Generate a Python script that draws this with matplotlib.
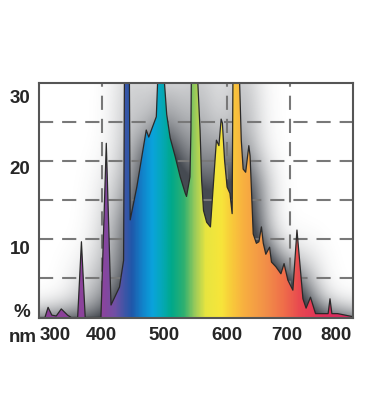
import matplotlib
matplotlib.use("Agg")
import matplotlib.pyplot as plt
import numpy as np
from matplotlib.colors import LinearSegmentedColormap
from matplotlib.patches import Polygon

# spectrum (nm, relative intensity %)
wavelength = [300, 310, 315, 321, 328, 336, 346, 352, 362, 368, 374, 399,
              407.5, 415, 428.5, 435, 436.5, 444, 445.5, 456, 471, 475, 487,
              489, 494, 500, 503.5, 509, 517, 525, 533, 535, 540.5, 542,
              543, 551, 553, 556.5, 559, 562, 567, 573, 582.5, 586.5, 590,
              592, 595.5, 599.5, 604, 607.5, 609, 618, 622, 625, 629, 634,
              636, 641, 646, 650, 654, 657, 661, 667, 670, 677, 685, 690,
              696, 704, 710.5, 720, 725, 732, 740, 760, 763, 766, 775, 800]
intensity = [0, 0, 1.3, 0.3, 0.2, 1.1, 0.3, 0, 0, 9.7, 0, 0,
             22.3, 1.6, 3.9, 7.3, 34, 34, 12.5, 16.7, 24, 23.1, 25.7,
             30, 33, 30, 26, 23, 20.6, 18, 15.9, 15.5, 18, 24,
             34, 34, 30, 24, 17.6, 13.7, 12.2, 11.6, 22.7, 22.0, 25.4,
             24.9, 20.1, 16.7, 15.9, 13.3, 34, 34, 22.7, 19, 18.6, 22.0,
             20.7, 10.7, 9.5, 9.7, 11.6, 9.5, 8.1, 9.0, 7.1, 6.5, 5.6, 6.9,
             4.8, 3.5, 11.2, 2.4, 1.2, 2.6, 0.5, 0.5, 2.4, 0.5, 0.5, 0.1]

# colour of the fill along the wavelength axis
color_nm = [300, 400, 420, 435, 447, 465, 480, 495, 510, 530, 548, 565,
            590, 605, 625, 660, 690, 715, 750, 800]
color_hex = ["#8b3f98", "#8c449d", "#7050a5", "#3f55a6", "#1f58aa", "#1185cc",
             "#0aa3dc", "#05a8b8", "#00a88a", "#2fb070", "#9ccb5a", "#e8e540",
             "#f7e53a", "#f8cc3a", "#f8b040", "#f29048", "#ef6d4a", "#e84850",
             "#e0305a", "#d82860"]

ytick_labels = ["%", "10", "20", "30"]
ytick_pos = [0.9, 9.0, 19.2, 28.3]
xtick_labels = ["300", "400", "500", "600", "700", "800"]
xtick_pos = [327, 400, 500, 599, 695, 772]
hgrid = [5, 10, 15, 20, 25]
vgrid = [400, 500, 600, 700]

x0, x1, y0, y1 = 300, 800, 0, 30

fig = plt.figure(figsize=(3.68, 4.2), dpi=100)
ax = fig.add_axes([0.105, 0.244, 0.855, 0.558])

# --- blurred drop shadow behind the spectrum
nx, ny, pad = 316, 235, 70
sh_nm = 7.0
cols = np.arange(-pad, nx + pad)
rows = np.arange(-pad, ny + pad)
g_nm = x0 + (cols + 0.5) / nx * (x1 - x0)
g_v = y0 + (rows + 0.5) / ny * (y1 - y0)
curve = np.interp(g_nm - sh_nm, wavelength, intensity, left=0, right=0)
mask = (g_v[:, None] < curve[None, :] - 0.6).astype(float)
sig = 15.0
kx = np.arange(-int(4 * sig), int(4 * sig) + 1)
ker = np.exp(-0.5 * (kx / sig) ** 2)
ker /= ker.sum()
blur = np.apply_along_axis(lambda r: np.convolve(r, ker, mode="same"), 1, mask)
blur = np.apply_along_axis(lambda c: np.convolve(c, ker, mode="same"), 0, blur)
blur = blur[pad:pad + ny, pad:pad + nx]
rgba = np.zeros((ny, nx, 4))
rgba[..., 0], rgba[..., 1], rgba[..., 2] = 0.19, 0.21, 0.24
rgba[..., 3] = np.clip(blur * 1.45, 0, 0.9)
ax.imshow(rgba, extent=(x0, x1, y0, y1), origin="lower", aspect="auto",
          zorder=1, interpolation="bilinear")

# --- dashed grid
for v in hgrid:
    ax.axhline(v, color="#787878", lw=1.5, dashes=(6.8, 4.3), zorder=2)
for v in vgrid:
    ax.axvline(v, color="#787878", lw=1.5, dashes=(6.8, 4.3), zorder=2)

# --- rainbow fill clipped to the spectrum
stops = [(n - x0) / (x1 - x0) for n in color_nm]
cmap = LinearSegmentedColormap.from_list("spec", list(zip(stops, color_hex)))
grad = np.linspace(0, 1, 600)[None, :]
im = ax.imshow(grad, extent=(x0, x1, y0, y1), aspect="auto", cmap=cmap,
               zorder=3, origin="lower")
verts = [(x0, 0)] + list(zip(wavelength, intensity)) + [(x1, 0)]
poly = Polygon(verts, closed=True, facecolor="none", edgecolor="none")
ax.add_patch(poly)
im.set_clip_path(poly)
ax.plot(wavelength, intensity, color="#2a2a2a", lw=0.9, zorder=4)

ax.set_xlim(x0, x1)
ax.set_ylim(y0, y1)

for s in ax.spines.values():
    s.set_color("#555555")
    s.set_linewidth(1.5)
    s.set_zorder(6)

lab = dict(family=["Liberation Sans", "DejaVu Sans"], weight="bold",
           fontsize=13.5, color="#262626")
ax.set_xticks(xtick_pos)
ax.set_xticklabels(xtick_labels, **lab)
ax.set_yticks(ytick_pos)
ax.set_yticklabels(ytick_labels, **lab)
ax.tick_params(length=0, pad=6)
ax.tick_params(axis="x", pad=7)
fig.text(0.062, 0.197, "nm", ha="center", va="center", **lab)

fig.savefig("out.png", dpi=100)
